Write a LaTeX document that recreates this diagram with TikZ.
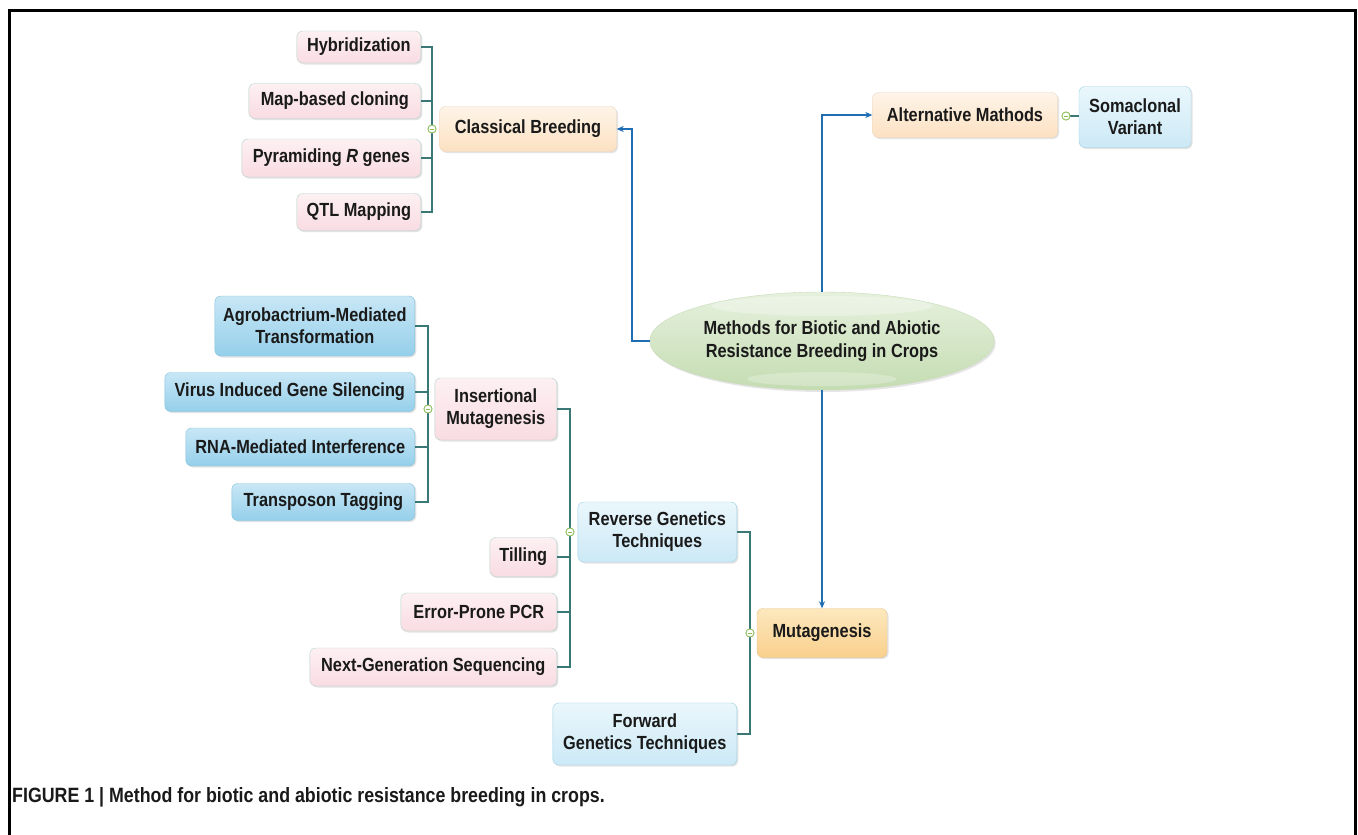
\documentclass[tikz,border=0pt]{standalone}
\usepackage{fontspec}
\setmainfont{Liberation Sans}[FakeStretch=0.86]
\usetikzlibrary{shapes.geometric,shadows,arrows.meta}
\definecolor{txt}{HTML}{1A1A1A}
\definecolor{brc}{HTML}{3A7878}
\definecolor{arc}{HTML}{1F6DB3}
\definecolor{dotc}{HTML}{8DBF5B}
\definecolor{pinkT}{HTML}{FDF0F2}\definecolor{pinkB}{HTML}{F9DCE3}\definecolor{pinkD}{HTML}{B3D4CB}
\definecolor{peachT}{HTML}{FEF4E8}\definecolor{peachB}{HTML}{FCE1C2}\definecolor{peachD}{HTML}{EBD6BF}
\definecolor{orT}{HTML}{FDE8BE}\definecolor{orB}{HTML}{F9D08C}\definecolor{orD}{HTML}{E8C48C}
\definecolor{lbT}{HTML}{EAF7FC}\definecolor{lbB}{HTML}{CCE9F6}\definecolor{lbD}{HTML}{9ED2E3}
\definecolor{dbT}{HTML}{C8E7F6}\definecolor{dbB}{HTML}{95CFEA}\definecolor{dbD}{HTML}{82C1DC}
\definecolor{grT}{HTML}{E6F1DD}\definecolor{grB}{HTML}{C4DCB2}\definecolor{grD}{HTML}{C9DBBB}
\tikzset{
  bx/.style={rounded corners=6pt, align=center, inner sep=2pt, text=txt,
    font=\bfseries\fontsize{19}{22}\selectfont,
    drop shadow={shadow xshift=1.5pt, shadow yshift=-1.5pt, opacity=0.22}},
  pinkbox/.style={bx, draw=pinkD, top color=pinkT, bottom color=pinkB},
  peachbox/.style={bx, draw=peachD, top color=peachT, bottom color=peachB},
  orbox/.style={bx, draw=orD, top color=orT, bottom color=orB},
  lbbox/.style={bx, draw=lbD, top color=lbT, bottom color=lbB},
  dbbox/.style={bx, draw=dbD, top color=dbT, bottom color=dbB},
  sz/.style 2 args={minimum width=#1pt, minimum height=#2pt},
  br/.style={draw=brc, line width=1.1pt},
  arr/.style={draw=arc, line width=1.3pt, -{Stealth[length=7pt,width=6pt]}},
  dot/.style={circle, draw=dotc, fill=white, line width=0.8pt, inner sep=0pt, minimum size=8pt,
    path picture={\draw[dotc, line width=0.8pt] ([xshift=-2.2pt]path picture bounding box.center) -- ([xshift=2.2pt]path picture bounding box.center);}},
}
\begin{document}
\begin{tikzpicture}[x=1pt,y=-1pt]
\useasboundingbox (0,0) rectangle (1358,835);
\fill[white] (0,0) rectangle (1358,835);
\draw[line width=3pt] (9.5,835) -- (9.5,10) -- (1355.5,10) -- (1355.5,835);

% root
\node[ellipse, draw=grD, top color=grT, bottom color=grB, minimum width=340pt, minimum height=98pt,
  align=center, text=txt, font=\bfseries\fontsize{19}{23}\selectfont,
  drop shadow={shadow xshift=1.5pt, shadow yshift=-2pt, opacity=0.2},
  path picture={\fill[white,opacity=0.3] ([yshift=-14pt]path picture bounding box.north) ellipse [x radius=110pt, y radius=10pt];
                \fill[white,opacity=0.25] ([yshift=11pt]path picture bounding box.south) ellipse [x radius=75pt, y radius=7pt];}]
  (root) at (822,341) {Methods for Biotic and Abiotic\\Resistance Breeding in Crops};

% classical breeding
\node[peachbox, sz={177}{45}] (cb) at (528,129) {Classical Breeding};
\node[pinkbox, sz={124}{32}, anchor=east] (hyb) at (421,47) {Hybridization};
\node[pinkbox, sz={172}{35}, anchor=east] (map) at (421,101) {Map-based cloning};
\node[pinkbox, sz={179}{38}, anchor=east] (pyr) at (421,158) {Pyramiding \textit{R} genes};
\node[pinkbox, sz={124}{37}, anchor=east] (qtl) at (421,212) {QTL Mapping};
\node[dot] (cbdot) at (432,129) {};
\foreach \n in {hyb,map,pyr,qtl} \draw[br] (\n.east) -| (cbdot);

% alternative
\node[peachbox, sz={185}{45}] (alt) at (965,115) {Alternative Mathods};
\node[lbbox, sz={112}{61}] (som) at (1135,117) {Somaclonal\\Variant};
\node[dot] (altdot) at (1066,116) {};
\draw[br] (altdot) -- (som.west |- altdot);

% mutagenesis
\node[orbox, sz={130}{49}] (mut) at (822,633) {Mutagenesis};
\node[lbbox, sz={159}{60}, anchor=east] (rev) at (737,532) {Reverse Genetics\\Techniques};
\node[lbbox, sz={184}{62}, anchor=east] (fwd) at (737,734) {Forward\\Genetics Techniques};
\node[dot] (mutdot) at (750,633) {};
\foreach \n in {rev,fwd} \draw[br] (\n.east) -| (mutdot);

% reverse genetics
\node[pinkbox, sz={122}{62}, anchor=east] (ins) at (557,409) {Insertional\\Mutagenesis};
\node[pinkbox, sz={67}{39}, anchor=east] (til) at (557,557) {Tilling};
\node[pinkbox, sz={156}{38}, anchor=east] (epc) at (557,612) {Error-Prone PCR};
\node[pinkbox, sz={247}{38}, anchor=east] (ngs) at (557,667) {Next-Generation Sequencing};
\node[dot] (revdot) at (570,532) {};
\foreach \n in {ins,til,epc,ngs} \draw[br] (\n.east) -| (revdot);

% insertional
\node[dbbox, sz={200}{60}, anchor=east] (agr) at (415,326) {Agrobactrium-Mediated\\Transformation};
\node[dbbox, sz={250}{39}, anchor=east] (vir) at (415,392) {Virus Induced Gene Silencing};
\node[dbbox, sz={229}{38}, anchor=east] (rna) at (415,447) {RNA-Mediated Interference};
\node[dbbox, sz={183}{37}, anchor=east] (tra) at (415,502) {Transposon Tagging};
\node[dot] (insdot) at (428,409) {};
\foreach \n in {agr,vir,rna,tra} \draw[br] (\n.east) -| (insdot);

% redraw dots on top
\foreach \d/\p in {cbdot/{432,129},altdot/{1066,116},mutdot/{750,633},revdot/{570,532},insdot/{428,409}}
  \node[dot] at (\p) {};

% arrows from root
\coordinate (kl) at (632,341);
\draw[arr] (root.west) -- (kl) |- (cb.east);
\draw[arr] (root.north) |- (alt.west);
\draw[arr] (root.south) -- (mut.north);

% caption
\node[anchor=base west, inner sep=0pt, text=txt, font=\bfseries\fontsize{20.7}{24}\selectfont] (cap) at (12,802)
  {FIGURE 1 | Method for biotic and abiotic resistance breeding in crops.};
\end{tikzpicture}
\end{document}
